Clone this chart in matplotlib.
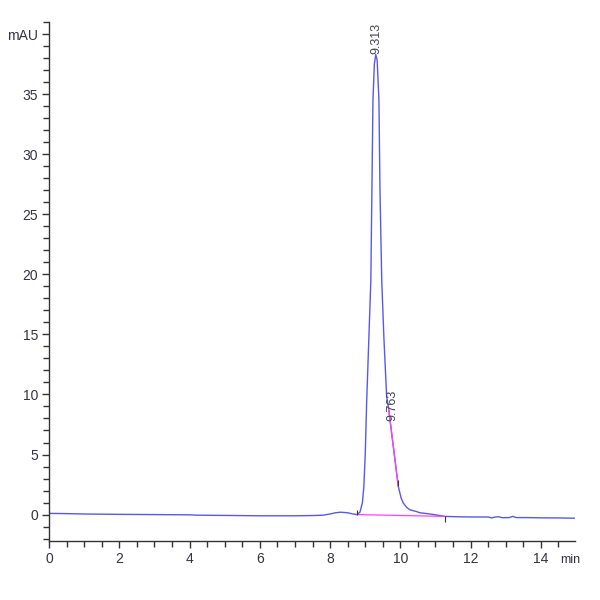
import numpy as np
import matplotlib
matplotlib.use('Agg')
import matplotlib.pyplot as plt
from matplotlib.ticker import MultipleLocator

# trace (min, mAU)
time = [0, 0.5, 1, 2, 3, 4, 4.2, 5, 6, 7, 7.5, 7.8, 8.0, 8.15, 8.3, 8.5, 8.65,
        8.76, 8.85, 8.92, 8.96, 9.0, 9.04, 9.1, 9.16, 9.19, 9.22, 9.26, 9.30,
        9.34, 9.39, 9.42, 9.47, 9.53, 9.61, 9.67, 9.75, 9.85, 9.94, 10.02,
        10.08, 10.18, 10.27, 10.46, 10.56, 10.84, 11.0, 11.27, 11.6, 12.0,
        12.5, 12.6, 12.7, 12.8, 12.9, 13.1, 13.2, 13.3, 13.6, 14.0, 14.5, 14.97]
signal = [0.1, 0.08, 0.05, 0.02, 0.0, -0.02, -0.05, -0.07, -0.1, -0.1, -0.08,
          -0.05, 0.05, 0.15, 0.2, 0.15, 0.05, 0.0, 0.2, 1.0, 2.3, 5.0, 9.3,
          14.4, 19.5, 27.0, 34.5, 37.5, 38.3, 37.8, 34.5, 27.0, 19.5, 14.8,
          9.8, 8.75, 6.8, 4.5, 2.36, 1.4, 0.97, 0.6, 0.4, 0.25, 0.15, 0.05,
          -0.02, -0.15, -0.18, -0.2, -0.2, -0.28, -0.2, -0.18, -0.26, -0.25,
          -0.15, -0.25, -0.25, -0.27, -0.28, -0.3]

# integration baseline and shoulder fit
base_t = [8.76, 11.27]
base_y = [0.0, -0.15]
shoulder_t = [9.67, 9.94]
shoulder_y = [8.75, 2.36]

# peak labels
peak_rt = [9.313, 9.763]
peak_lbl_y = [38.3, 7.8]

# integration events (tick marks)
event_t = [8.76, 9.94, 11.27]
event_y0 = [0.0, 2.36, -0.15]
event_y1 = [0.4, 2.9, -0.65]

plt.rcParams['font.family'] = ['Liberation Sans Narrow', 'Liberation Sans', 'DejaVu Sans']

fig = plt.figure(figsize=(6, 6), dpi=100)
ax = fig.add_axes([0.0817, 0.0983, 0.8766, 0.865])

ax.plot(time, signal, color='#5858f0', lw=1.0)
ax.plot(base_t, base_y, color='#ff40ff', lw=0.9)
ax.plot(shoulder_t, shoulder_y, color='#ff40ff', lw=0.9)
ax.vlines(event_t, event_y0, event_y1, color='#333333', lw=0.8)

for rt, yy in zip(peak_rt, peak_lbl_y):
    ax.text(rt, yy, '%.3f' % rt, rotation=90, ha='center', va='bottom',
            fontsize=9, color='#444455')

ax.set_xlim(0, 14.97)
ax.set_ylim(-2.2, 41)

ax.xaxis.set_major_locator(MultipleLocator(2))
ax.xaxis.set_minor_locator(MultipleLocator(0.5))
ax.yaxis.set_major_locator(MultipleLocator(5))
ax.yaxis.set_minor_locator(MultipleLocator(1))

yt = [0, 5, 10, 15, 20, 25, 30, 35, 40]
ax.set_yticks(yt)
ax.set_yticklabels([str(v) for v in yt[:-1]] + ['mAU'])

ax.spines['top'].set_visible(False)
ax.spines['right'].set_visible(False)
for s in ['left', 'bottom']:
    ax.spines[s].set_color('#333333')
    ax.spines[s].set_linewidth(1.0)

ax.tick_params(which='major', length=5, width=1, color='#333333',
               labelsize=10, labelcolor='#333344', pad=3)
ax.tick_params(which='minor', length=4, width=1, color='#333333')

ax.text(0.99, -0.025, 'min', transform=ax.transAxes, ha='center', va='top',
        fontsize=9, color='#333344')

fig.savefig('out.png', dpi=100)
